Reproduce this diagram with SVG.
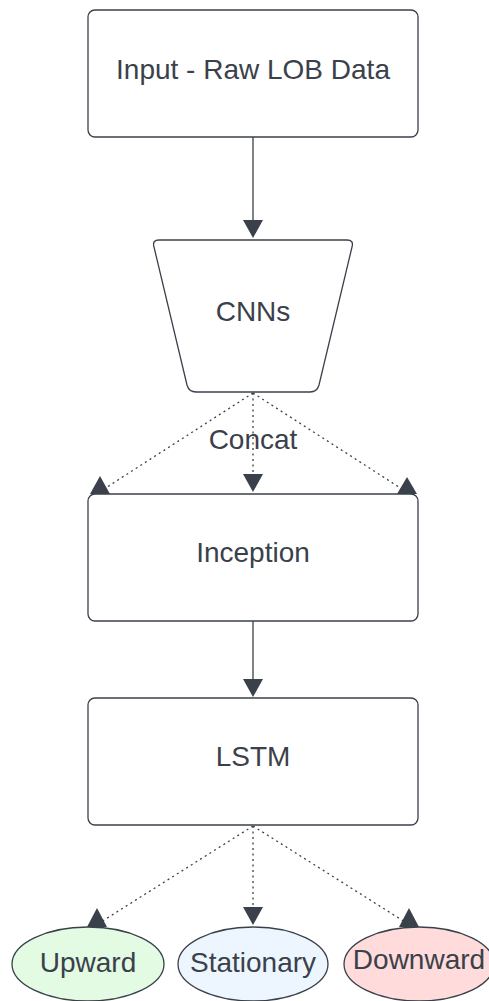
<svg xmlns="http://www.w3.org/2000/svg" width="489" height="1001" viewBox="0 0 489 1001">
  <style>
    .box { fill: #ffffff; stroke: #3a414a; stroke-width: 1.3; }
    .lbl { font-family: "Liberation Sans", Arial, sans-serif; font-size: 28px; fill: #3a414a; text-anchor: middle; dominant-baseline: central; }
    .solid { stroke: #3a414a; stroke-width: 1.3; fill: none; }
    .dot { stroke: #3a414a; stroke-width: 1.3; fill: none; stroke-dasharray: 2 3.5; }
    .head { fill: #3a414a; }
  </style>
  <rect width="489" height="1001" fill="#ffffff"/>

  <g id="connectors">
    <line class="solid" x1="253" y1="137" x2="253" y2="222"/>
    <polygon class="head" points="243,220 263,220 253,238"/>

    <line class="dot" x1="253" y1="393" x2="104" y2="489"/>
    <polygon class="head" points="90,494 110,494 100,476"/>
    <line class="dot" x1="253" y1="393" x2="253" y2="476"/>
    <polygon class="head" points="243,474 263,474 253,492"/>
    <line class="dot" x1="253" y1="393" x2="402" y2="489"/>
    <polygon class="head" points="397,494 417,494 407,477"/>

    <line class="solid" x1="253" y1="621" x2="253" y2="681"/>
    <polygon class="head" points="243,679 263,679 253,697"/>

    <line class="dot" x1="253" y1="826" x2="101" y2="922"/>
    <polygon class="head" points="87,927 107,927 97,908"/>
    <line class="dot" x1="253" y1="826" x2="253" y2="909"/>
    <polygon class="head" points="243,907 263,907 253,925"/>
    <line class="dot" x1="253" y1="826" x2="405" y2="922"/>
    <polygon class="head" points="399,927 419,927 409,908"/>
  </g>

  <g id="input">
    <rect class="box" x="88" y="10" width="330" height="127" rx="7"/>
    <text class="lbl" x="253" y="69">Input - Raw LOB Data</text>
  </g>

  <g id="cnns">
    <path class="box" d="M159,240 L347,240 Q354,240 352,247 L319,385 Q317,392 310,392 L196,392 Q189,392 187,385 L154,247 Q152,240 159,240 Z"/>
    <text class="lbl" x="253" y="311">CNNs</text>
  </g>

  <g id="concat-label">
    <text class="lbl" x="253" y="439">Concat</text>
  </g>

  <g id="inception">
    <rect class="box" x="88" y="494" width="330" height="127" rx="7"/>
    <text class="lbl" x="253" y="552">Inception</text>
  </g>

  <g id="lstm">
    <rect class="box" x="88" y="698" width="330" height="127" rx="7"/>
    <text class="lbl" x="253" y="756">LSTM</text>
  </g>

  <g id="upward">
    <ellipse class="box" cx="88" cy="964" rx="76" ry="37" style="fill:#e3fae3"/>
    <text class="lbl" x="88" y="962">Upward</text>
  </g>

  <g id="stationary">
    <ellipse class="box" cx="253" cy="964" rx="75" ry="37" style="fill:#edf5ff"/>
    <text class="lbl" x="253" y="962">Stationary</text>
  </g>

  <g id="downward">
    <ellipse class="box" cx="419" cy="964" rx="75" ry="37" style="fill:#ffdbdb"/>
    <text class="lbl" x="419" y="959">Downward</text>
  </g>
</svg>
